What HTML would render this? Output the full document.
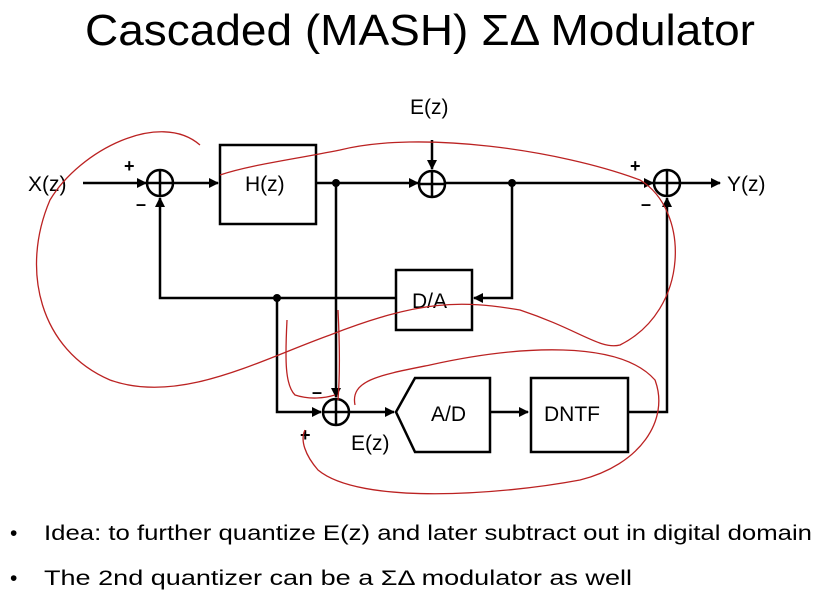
<!DOCTYPE html>
<html><head><meta charset="utf-8"><style>html,body{margin:0;padding:0;background:#fff}svg{display:block}</style></head>
<body>
<svg width="823" height="594" viewBox="0 0 823 594" xmlns="http://www.w3.org/2000/svg" font-family="Liberation Sans, sans-serif">
<defs><marker id="a" markerWidth="10" markerHeight="10" refX="9" refY="5" orient="auto" markerUnits="userSpaceOnUse"><path d="M0,0 L10,5 L0,10 Z" fill="#000"/></marker></defs>
<text x="85" y="45" font-size="44" textLength="670" lengthAdjust="spacingAndGlyphs">Cascaded (MASH) ΣΔ Modulator</text>
<g stroke="#000" stroke-width="2.5" fill="none">
<line x1="83" y1="183" x2="146" y2="183" marker-end="url(#a)"/>
<circle cx="160" cy="183" r="13"/><line x1="147" y1="183" x2="173" y2="183"/><line x1="160" y1="170" x2="160" y2="196"/>
<line x1="173" y1="183" x2="218" y2="183" marker-end="url(#a)"/>
<rect x="220" y="145" width="96" height="79"/>
<line x1="316" y1="183" x2="418" y2="183" marker-end="url(#a)"/>
<line x1="432" y1="140" x2="432" y2="169" marker-end="url(#a)"/>
<circle cx="432" cy="184" r="13"/><line x1="419" y1="184" x2="445" y2="184"/><line x1="432" y1="171" x2="432" y2="197"/>
<line x1="445" y1="183" x2="653" y2="183" marker-end="url(#a)"/>
<circle cx="667" cy="183" r="13"/><line x1="654" y1="183" x2="680" y2="183"/><line x1="667" y1="170" x2="667" y2="196"/>
<line x1="680" y1="183" x2="720" y2="183" marker-end="url(#a)"/>
<polyline points="512,183 512,298 474,298" marker-end="url(#a)"/>
<rect x="396" y="270" width="76" height="60"/>
<polyline points="396,298 160,298 160,198" marker-end="url(#a)"/>
<polyline points="277,298 277,412 321,412" marker-end="url(#a)"/>
<line x1="336" y1="183" x2="336" y2="397" marker-end="url(#a)"/>
<circle cx="336" cy="412" r="13"/><line x1="323" y1="412" x2="349" y2="412"/><line x1="336" y1="399" x2="336" y2="425"/>
<line x1="349" y1="412" x2="394" y2="412" marker-end="url(#a)"/>
<polygon points="396,412 415,378 490,378 490,452 415,452"/>
<line x1="490" y1="412" x2="528" y2="412" marker-end="url(#a)"/>
<rect x="531" y="378" width="97" height="74"/>
<polyline points="628,412 667,412 667,198" marker-end="url(#a)"/>
</g>
<g fill="#000"><circle cx="336" cy="183" r="4"/><circle cx="512" cy="183" r="4"/><circle cx="277" cy="298" r="4"/></g>
<g font-size="21">
<text x="28" y="191">X(z)</text>
<text x="245" y="191">H(z)</text>
<text x="410" y="114">E(z)</text>
<text x="727" y="191">Y(z)</text>
<text x="412" y="308">D/A</text>
<text x="431" y="421">A/D</text>
<text x="544" y="421">DNTF</text>
<text x="351" y="450">E(z)</text>
</g>
<g font-size="18" font-weight="bold">
<text x="124" y="172">+</text><text x="136" y="210">–</text>
<text x="630" y="172">+</text><text x="641" y="210">–</text>
<text x="312" y="398">–</text><text x="300" y="441">+</text>
</g>
<g fill="none" stroke="#b22" stroke-width="1.3">
<path d="M200,145 C160,110 80,150 50,200 C20,270 40,350 110,380 C180,405 260,360 330,335 C420,300 460,300 520,310 C580,330 600,350 620,345 C690,310 690,210 640,180 C560,150 420,130 340,150 C290,160 250,165 220,175"/>
<path d="M287,320 C285,360 285,385 295,395 C310,400 325,398 335,395 M338,310 C340,350 340,375 338,400"/>
<path d="M355,405 C350,380 380,375 430,365 C520,345 620,340 655,380 C670,420 640,465 580,480 C500,495 360,505 318,470 C305,455 300,440 305,430"/>
</g>
<g font-size="21">
<text x="10" y="540">•</text><text x="44" y="540" textLength="768" lengthAdjust="spacingAndGlyphs">Idea: to further quantize E(z) and later subtract out in digital domain</text>
<text x="10" y="585">•</text><text x="44" y="585" textLength="588" lengthAdjust="spacingAndGlyphs">The 2nd quantizer can be a ΣΔ modulator as well</text>
</g>
</svg>
</body></html>
